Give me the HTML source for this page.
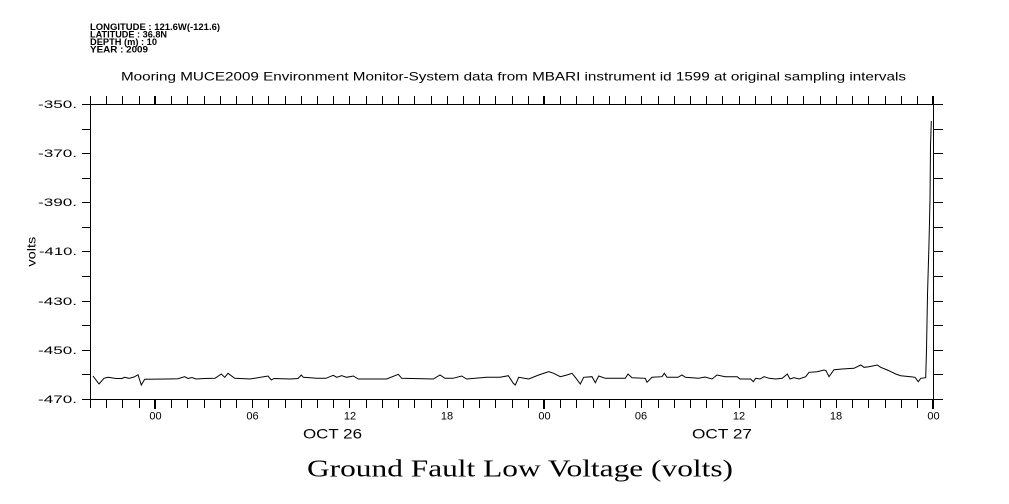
<!DOCTYPE html>
<html>
<head>
<meta charset="utf-8">
<style>
  html, body { margin: 0; padding: 0; background: #fff; }
  svg { display: block; }
  text { font-family: "Liberation Sans", "DejaVu Sans", sans-serif; fill: #000; }
  .serif { font-family: "Liberation Serif", "DejaVu Serif", serif; }
</style>
</head>
<body>
<svg width="1009" height="504" viewBox="0 0 1009 504" xmlns="http://www.w3.org/2000/svg">
  <rect x="0" y="0" width="1009" height="504" fill="#fff"/>

  <!-- header info -->
  <text x="90" y="30" font-size="9" font-weight="bold" textLength="130" lengthAdjust="spacingAndGlyphs">LONGITUDE : 121.6W(-121.6)</text>
  <text x="90" y="37.5" font-size="9" font-weight="bold" textLength="77" lengthAdjust="spacingAndGlyphs">LATITUDE : 36.8N</text>
  <text x="90" y="45" font-size="9" font-weight="bold" textLength="67" lengthAdjust="spacingAndGlyphs">DEPTH (m) : 10</text>
  <text x="90" y="52.5" font-size="9" font-weight="bold" textLength="58" lengthAdjust="spacingAndGlyphs">YEAR : 2009</text>

  <!-- title -->
  <text x="121" y="80.3" font-size="11.8" textLength="785" lengthAdjust="spacingAndGlyphs">Mooring MUCE2009 Environment Monitor-System data from MBARI instrument id 1599 at original sampling intervals</text>

  <!-- frame -->
  <g stroke="#000" stroke-width="1" fill="none" shape-rendering="crispEdges">
    <path d="M82 104.5H943M82 399.5H943M90.5 104V400M933.5 104V400"/>
    <path d="M82 129.5h8M82 153.5h8M82 178.5h8M82 202.5h8M82 227.5h8M82 251.5h8M82 276.5h8M82 301.5h8M82 325.5h8M82 350.5h8M82 374.5h8"/>
    <path d="M933 129.5h10M933 153.5h10M933 178.5h10M933 202.5h10M933 227.5h10M933 251.5h10M933 276.5h10M933 301.5h10M933 325.5h10M933 350.5h10M933 374.5h10"/>
    <path d="M90.5 399v9M106.5 399v9M122.5 399v9M139.5 399v9M171.5 399v9M187.5 399v9M204.5 399v9M220.5 399v9M236.5 399v9M252.5 399v9M268.5 399v9M285.5 399v9M301.5 399v9M317.5 399v9M333.5 399v9M349.5 399v9M366.5 399v9M382.5 399v9M398.5 399v9M414.5 399v9M431.5 399v9M447.5 399v9M463.5 399v9M479.5 399v9M495.5 399v9M512.5 399v9M528.5 399v9M560.5 399v9M576.5 399v9M593.5 399v9M609.5 399v9M625.5 399v9M641.5 399v9M658.5 399v9M674.5 399v9M690.5 399v9M706.5 399v9M722.5 399v9M739.5 399v9M755.5 399v9M771.5 399v9M787.5 399v9M803.5 399v9M820.5 399v9M836.5 399v9M852.5 399v9M868.5 399v9M885.5 399v9M901.5 399v9M917.5 399v9"/>
    <path d="M90.5 96v8M106.5 96v8M122.5 96v8M139.5 96v8M171.5 96v8M187.5 96v8M204.5 96v8M220.5 96v8M236.5 96v8M252.5 96v8M268.5 96v8M285.5 96v8M301.5 96v8M317.5 96v8M333.5 96v8M349.5 96v8M366.5 96v8M382.5 96v8M398.5 96v8M414.5 96v8M431.5 96v8M447.5 96v8M463.5 96v8M479.5 96v8M495.5 96v8M512.5 96v8M528.5 96v8M560.5 96v8M576.5 96v8M593.5 96v8M609.5 96v8M625.5 96v8M641.5 96v8M658.5 96v8M674.5 96v8M690.5 96v8M706.5 96v8M722.5 96v8M739.5 96v8M755.5 96v8M771.5 96v8M787.5 96v8M803.5 96v8M820.5 96v8M836.5 96v8M852.5 96v8M868.5 96v8M885.5 96v8M901.5 96v8M917.5 96v8"/>
  </g>
  <g fill="#000" shape-rendering="crispEdges">
    <rect x="154" y="399" width="2" height="10"/>
    <rect x="543" y="399" width="2" height="10"/>
    <rect x="932" y="399" width="2" height="10"/>
    <rect x="154" y="96" width="2" height="9"/>
    <rect x="543" y="96" width="2" height="9"/>
    <rect x="932" y="96" width="2" height="9"/>
  </g>

  <!-- y labels -->
  <g font-size="11" text-anchor="end">
    <text x="77" y="108" textLength="39" lengthAdjust="spacingAndGlyphs">-350.</text>
    <text x="77" y="157" textLength="39" lengthAdjust="spacingAndGlyphs">-370.</text>
    <text x="77" y="206" textLength="39" lengthAdjust="spacingAndGlyphs">-390.</text>
    <text x="77" y="255" textLength="38" lengthAdjust="spacingAndGlyphs">-410.</text>
    <text x="77" y="305" textLength="39" lengthAdjust="spacingAndGlyphs">-430.</text>
    <text x="77" y="354" textLength="39" lengthAdjust="spacingAndGlyphs">-450.</text>
    <text x="77" y="403" textLength="39" lengthAdjust="spacingAndGlyphs">-470.</text>
  </g>
  <text transform="translate(35.5,251.7) rotate(-90)" font-size="12" text-anchor="middle" textLength="30" lengthAdjust="spacingAndGlyphs">volts</text>

  <!-- x labels -->
  <g font-size="11" text-anchor="middle">
    <text x="155.5" y="419.5">00</text>
    <text x="252.5" y="419.5">06</text>
    <text x="350" y="419.5">12</text>
    <text x="447" y="419.5">18</text>
    <text x="544.5" y="419.5">00</text>
    <text x="641" y="419.5">06</text>
    <text x="739" y="419.5">12</text>
    <text x="836" y="419.5">18</text>
    <text x="933.5" y="419.5">00</text>
  </g>
  <text x="303" y="438.3" font-size="14" textLength="59" lengthAdjust="spacingAndGlyphs">OCT 26</text>
  <text x="692" y="438.3" font-size="14" textLength="60" lengthAdjust="spacingAndGlyphs">OCT 27</text>

  <!-- bottom title -->
  <text class="serif" x="307" y="476.5" font-size="24.5" textLength="426" lengthAdjust="spacingAndGlyphs">Ground Fault Low Voltage (volts)</text>

  <!-- data -->
  <polyline fill="none" stroke="#000" stroke-width="1" stroke-linejoin="miter" points="
    93,376 99,384 104,378.3 108,377.3 116,378.5 122,378.5 124.7,377.3 129,378.3 134,377 138,374.7 141.3,385 144.7,379.3 168,379 178,378.7 184.7,376.7 188,378.5 192,377.5 196,379 205,378.5 215,378.3 221.3,374 224.7,377.3 228,373.3 234.7,378.3 240,378.5 250,379 268,376 271.3,380 274,378.5 290,379 298,378.5 301.3,375
    303.3,377.3 316.7,378.3 326,378.3 333.3,375.3 336.7,377.3 341.7,375.7 346.7,377.3 353.3,376 358.3,379 386.7,379 398.3,374.3 401.7,378.3 433.3,379 440,375 445,378.3 453,378.3 461.7,376 466.7,379 486.7,377.3 500,377.3 508.3,375.7 513.3,383.3
    515.3,385 518.7,377.3 528.7,379 538.7,375 548.7,371.7 553.7,373.3 560.3,376.7 567,375 572,373.3 575.3,377.3 580.3,384 583.7,377.3 592,376.7 595.3,382.7 598.7,376 605.3,378.3 625.3,378.3 628,374 632,377.7 645.3,378.3 647,382.3 652,377.3 662,376.7 664.3,373.3 667,377.3 678,377.3 682,375 685.3,377.3 698.7,378.3 705,377 712,379 717,375 725.3,376.7
    737.3,376.7 740,379 750.7,379 753.3,381.7 755.7,378.3 760,379 764,376.7 769,378.3 775.7,379 782.3,378.3 787.3,374 790,379 794,377.7 799,379 805.7,376.7 809,372.3 817.3,371.7 824,370 826,370.7 829,376.7 834,369.7 842.3,369 854,368.3 860.7,365 864,367.3 869,366.7 877.3,365 880.7,367.3 887.3,370 892.3,372.3 895.7,374 900.7,375.7 910.7,376.7 915,377.3 918.3,381.7 920.7,378.3 925.7,377.7
    926.5,350 927.5,295 929,243 930,200 930.5,146 931.3,121"/>
</svg>
</body>
</html>
